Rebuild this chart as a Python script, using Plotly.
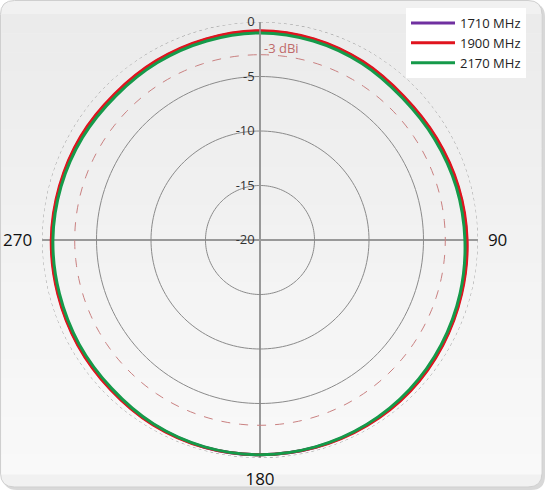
import plotly.graph_objects as go
import numpy as np

# Angles (degrees, clockwise from top) and gain values (dBi)
angles = [0, 15, 30, 45, 60, 75, 90, 105, 120, 135, 150, 165,
          180, 195, 210, 225, 240, 255, 270, 285, 300, 315, 330, 345]
gain_2170 = [-1.0, -1.1, -1.3, -1.55, -1.5, -1.35, -1.2, -1.0, -0.8, -0.6, -0.45, -0.35,
             -0.3, -0.35, -0.5, -0.75, -0.85, -0.95, -1.0, -1.1, -1.2, -1.3, -1.2, -1.1]
gain_1900 = [-0.8, -0.9, -1.1, -1.35, -1.3, -1.15, -1.0, -0.85, -0.65, -0.45, -0.35, -0.3,
             -0.3, -0.3, -0.4, -0.6, -0.7, -0.8, -0.85, -0.95, -1.0, -1.1, -1.0, -0.9]
gain_1710 = [-0.85, -0.95, -1.15, -1.4, -1.35, -1.2, -1.05, -0.9, -0.7, -0.5, -0.4, -0.32,
             -0.3, -0.32, -0.45, -0.65, -0.75, -0.85, -0.9, -1.0, -1.05, -1.15, -1.05, -0.95]
series_names = ["1710 MHz", "1900 MHz", "2170 MHz"]
series_colors = ["#7030a0", "#e0141e", "#159a4a"]
radial_ticks = [-20, -15, -10, -5, 0]
radial_labels = ["-20", "-15", "-10", "-5", "0"]
angular_ticks = [0, 90, 180, 270]
angular_labels = ["", "90", "180", "270"]

FONT = "Open Sans"
W, H = 546, 491
fig = go.Figure()

ring = np.arange(0, 361, 2)
for rv in [-15, -10, -5]:
    fig.add_trace(go.Scatterpolar(r=[rv] * len(ring), theta=ring, mode="lines",
                                  line=dict(color="#8a8a8a", width=1),
                                  hoverinfo="skip", showlegend=False))
fig.add_trace(go.Scatterpolar(r=[-3] * len(ring), theta=ring, mode="lines",
                              line=dict(color="#c98080", width=1, dash="dash"),
                              hoverinfo="skip", showlegend=False))
fig.add_trace(go.Scatterpolar(r=[0] * len(ring), theta=ring, mode="lines",
                              line=dict(color="#a0a0a0", width=1, dash="dot"),
                              hoverinfo="skip", showlegend=False))

for name, col, vals in zip(series_names, series_colors, [gain_1710, gain_1900, gain_2170]):
    fig.add_trace(go.Scatterpolar(r=vals + [vals[0]], theta=angles + [360], mode="lines",
                                  name=name, line=dict(color=col, width=3, shape="spline")))


def px(x):
    return x / W


def py(y):
    return 1 - y / H


def rounded_rect(x0, y0, x1, y1, rad):
    return (f"M {px(x0 + rad)},{py(y0)} L {px(x1 - rad)},{py(y0)} "
            f"Q {px(x1)},{py(y0)} {px(x1)},{py(y0 + rad)} L {px(x1)},{py(y1 - rad)} "
            f"Q {px(x1)},{py(y1)} {px(x1 - rad)},{py(y1)} L {px(x0 + rad)},{py(y1)} "
            f"Q {px(x0)},{py(y1)} {px(x0)},{py(y1 - rad)} L {px(x0)},{py(y0 + rad)} "
            f"Q {px(x0)},{py(y0)} {px(x0 + rad)},{py(y0)} Z")


shapes = [
    dict(type="path", xref="paper", yref="paper",
         path=rounded_rect(3, 3, 545, 490, 14),
         fillcolor="#d8d8d8", line=dict(width=0), layer="below"),
    dict(type="path", xref="paper", yref="paper",
         path=rounded_rect(0.5, 0.5, 542, 487, 14),
         fillcolor="#f1f1f1", line=dict(color="#cfcfcf", width=1), layer="below"),
]
# soft vertical background gradient (decoration)
nb = 24
edges = np.linspace(14, 474, nb + 1)
for i in range(nb):
    g = int(round(235 + (249 - 235) * i / (nb - 1)))
    shapes.append(dict(type="rect", xref="paper", yref="paper",
                       x0=px(1.2), x1=px(541.3), y0=py(edges[i + 1] + 0.5), y1=py(edges[i]),
                       fillcolor=f"rgb({g},{g},{g})", line=dict(width=0), layer="below"))

fig.update_layout(
    width=W, height=H,
    margin=dict(l=0, r=0, t=0, b=0),
    paper_bgcolor="white",
    font=dict(family=FONT, color="#222"),
    polar=dict(
        domain=dict(x=[42 / W, 478 / W], y=[1 - 458 / H, 1 - 22 / H]),
        bgcolor="rgba(0,0,0,0)",
        radialaxis=dict(range=[-20, 0], tickvals=radial_ticks, ticktext=radial_labels,
                        angle=90, side="counterclockwise", tickangle=90,
                        showgrid=False, showline=True, linecolor="#999", linewidth=1.5,
                        ticks="", tickfont=dict(size=13, color="#333", family=FONT)),
        angularaxis=dict(rotation=90, direction="clockwise", tickvals=angular_ticks,
                         ticktext=angular_labels, showline=False, ticks="outside",
                         ticklen=6, tickcolor="rgba(0,0,0,0)",
                         gridcolor="#999", gridwidth=1.5,
                         tickfont=dict(size=17, color="#111", family=FONT)),
    ),
    legend=dict(x=406 / W, y=1 - 8 / H, xanchor="left", yanchor="top",
                bgcolor="white", font=dict(size=13, family=FONT, color="#222"),
                itemwidth=44, tracegroupgap=0),
    annotations=[dict(x=281 / W, y=1 - 48 / H, xref="paper", yref="paper",
                      xanchor="center", yanchor="middle",
                      text="-3 dBi", showarrow=False,
                      font=dict(size=13, color="#c06a6a", family=FONT))],
    shapes=shapes,
)

fig.write_html("out.html", config={"displayModeBar": False},
               post_script="document.body.style.margin='0';")
